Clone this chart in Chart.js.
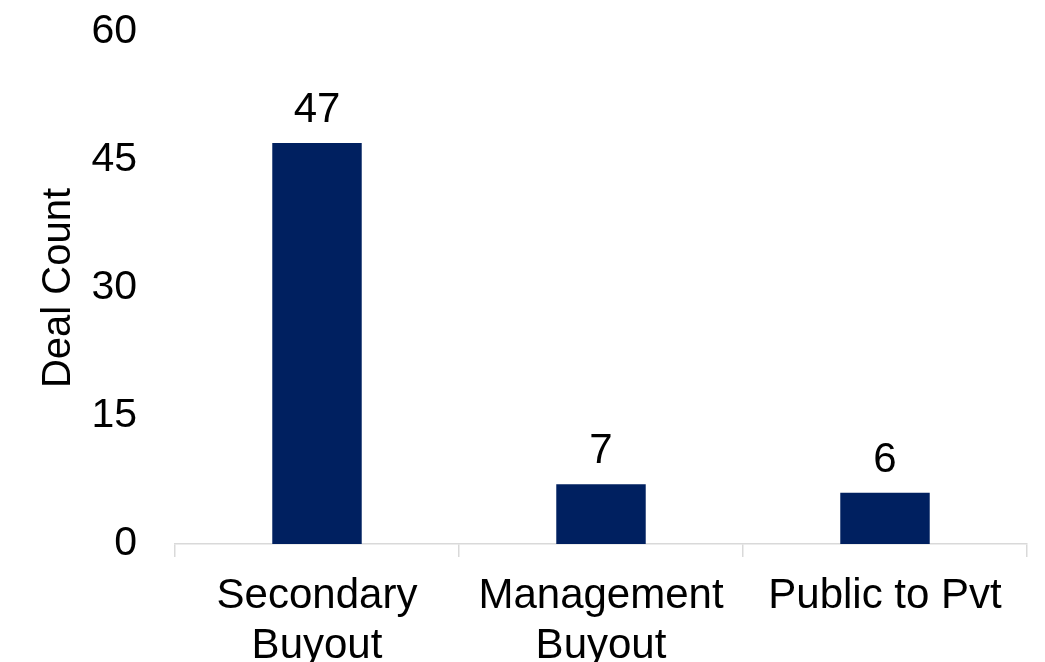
<!DOCTYPE html>
<html>
<head>
<meta charset="utf-8">
<script src="https://cdn.jsdelivr.net/npm/chart.js@4"></script>
<style>
  html, body { margin: 0; padding: 0; background: #fff; }
  #wrap { width: 1045px; height: 662px; }
</style>
</head>
<body>
<div id="wrap"><canvas id="dealChart"></canvas></div>
<script>
const categories = [['Secondary', 'Buyout'], ['Management', 'Buyout'], 'Public to Pvt'];
const dealCounts = [47, 7, 6];
const yTicks = [0, 15, 30, 45, 60];

// draws the value above each bar
const barValues = {
    id: 'barValues',
    afterDatasetsDraw(chart) {
        const ctx = chart.ctx;
        const meta = chart.getDatasetMeta(0);
        ctx.save();
        ctx.font = '42px "Liberation Sans", Arial, sans-serif';
        ctx.fillStyle = '#000';
        ctx.textAlign = 'center';
        ctx.textBaseline = 'alphabetic';
        meta.data.forEach((bar, i) => {
            ctx.fillText(dealCounts[i], bar.x, bar.y - 21);
        });
        ctx.restore();
    }
};

Chart.defaults.font.family = '"Liberation Sans", Arial, sans-serif';
Chart.defaults.color = '#000';

new Chart(document.getElementById('dealChart'), {
    type: 'bar',
    data: {
        labels: categories,
        datasets: [{
            label: 'Deal Count',
            data: dealCounts,
            backgroundColor: '#002060',
            categoryPercentage: 1,
            barPercentage: 0.315
        }]
    },
    options: {
        responsive: true,
        maintainAspectRatio: false,
        animation: false,
        layout: { padding: { top: 32, right: 18, left: 0, bottom: 0 } },
        plugins: {
            legend: { display: false },
            tooltip: { enabled: false }
        },
        scales: {
            x: {
                grid: {
                    drawOnChartArea: false,
                    drawTicks: true,
                    tickLength: 13,
                    color: '#d9d9d9',
                    lineWidth: 1.5
                },
                border: { color: '#d9d9d9', width: 1.5 },
                ticks: {
                    font: { size: 42 },
                    padding: 14,
                    maxRotation: 0,
                    autoSkip: false
                },
                afterFit(scale) { scale.height = 118; }
            },
            y: {
                min: 0,
                max: 60,
                afterBuildTicks(scale) {
                    scale.ticks = yTicks.map(v => ({ value: v }));
                },
                grid: { display: false, drawTicks: false },
                border: { display: false },
                ticks: {
                    font: { size: 41 },
                    padding: 38
                },
                title: {
                    display: true,
                    text: 'Deal Count',
                    font: { size: 40 },
                    padding: { top: 35, bottom: 0 }
                },
                afterFit(scale) {
                    scale.width = 175;
                    scale.paddingTop = 0;
                    scale.paddingBottom = 0;
                }
            }
        }
    },
    plugins: [barValues]
});
</script>
</body>
</html>
